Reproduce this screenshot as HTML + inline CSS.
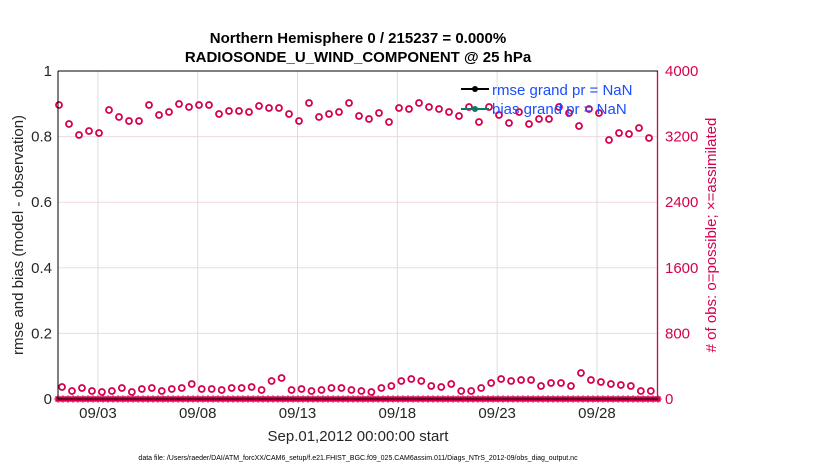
<!DOCTYPE html>
<html><head><meta charset="utf-8"><style>
body{margin:0;background:#fff;}
svg{display:block;font-family:"Liberation Sans",Arial,sans-serif;}
</style></head><body>
<svg id="s" width="830" height="470" xmlns="http://www.w3.org/2000/svg">
<rect width="830" height="470" fill="#fff"/>
<g id="grid" stroke="#dcdcdc" stroke-width="1"></g>
<g id="pts"></g>
<line x1="58" y1="71" x2="58" y2="399" stroke="#000"/>
<line x1="657.5" y1="71" x2="657.5" y2="399" stroke="#d6004f" stroke-width="1.3"/>
<line x1="58" y1="399" x2="658" y2="399" stroke="#000"/>
<line x1="58" y1="71" x2="658" y2="71" stroke="#000"/>
<g font-size="15" fill="#262626" text-anchor="end" id="yl"></g>
<g font-size="15" fill="#d6004f" id="yr"></g>
<g font-size="15" fill="#262626" text-anchor="middle" id="xl"></g>
<text x="358" y="43" font-size="15" font-weight="bold" text-anchor="middle" fill="#000">Northern Hemisphere 0 / 215237 = 0.000%</text>
<text x="358" y="62" font-size="15" font-weight="bold" text-anchor="middle" fill="#000">RADIOSONDE_U_WIND_COMPONENT @ 25 hPa</text>
<text x="358" y="441" font-size="15" text-anchor="middle" fill="#262626">Sep.01,2012 00:00:00 start</text>
<text x="358" y="460" font-size="7" text-anchor="middle" fill="#000">data file: /Users/raeder/DAI/ATM_forcXX/CAM6_setup/f.e21.FHIST_BGC.f09_025.CAM6assim.011/Diags_NTrS_2012-09/obs_diag_output.nc</text>
<text transform="translate(23,235) rotate(-90)" font-size="15" text-anchor="middle" fill="#262626">rmse and bias (model - observation)</text>
<text transform="translate(716,235) rotate(-90)" font-size="15" text-anchor="middle" fill="#d6004f"># of obs: o=possible; ×=assimilated</text>
<g id="leg"></g>
</svg>
<script>
(function(){
const ns="http://www.w3.org/2000/svg";
function el(p,t,a,txt){const e=document.createElementNS(ns,t);for(const k in a)e.setAttribute(k,a[k]);if(txt)e.textContent=txt;document.getElementById(p).appendChild(e);}
for(let k=1;k<5;k++){const y=399-65.6*k;el("grid","line",{x1:58,x2:658,y1:y,y2:y,stroke:"#f0d8e0"});}
const days=[3,8,13,18,23,28];
days.forEach(d=>{const x=58+19.96*(d-1);el("grid","line",{x1:x,x2:x,y1:71,y2:399});el("xl","text",{x:x,y:418},"09/"+String(d).padStart(2,"0"));});
["0","0.2","0.4","0.6","0.8","1"].forEach((t,k)=>el("yl","text",{x:52,y:404-65.6*k},t));
["0","800","1600","2400","3200","4000"].forEach((t,k)=>el("yr","text",{x:665,y:404-65.6*k},t));
const topY=[105,124,135,131,133,110,117,121,121,105,115,112,104,107,105,105,114,111,111,112,106,108,108,114,121,103,117,114,112,103,116,119,113,122,108,109,103,
107,109,112,116,107,122,107,115,123,112,124,119,119,107,113,126,109,113,140,133,134,128,138];
const bot=[387,391,388,391,392,391,388,392,389,388,391,389,388,384,389,389,390,388,388,387,390,381,378,390,389,391,390,388,388,390,391,392,388,386,381,379,381,386,387,384,391,391,388,383,379,381,380,380,386,383,383,386,373,380,382,384,385,386,391,391];
for(let i=0;i<60;i++){el("pts","circle",{cx:59+10*i,cy:topY[i],r:3,fill:"none",stroke:"#d6004f","stroke-width":1.8});}
for(let i=0;i<60;i++){el("pts","circle",{cx:62+9.98*i,cy:bot[i],r:3,fill:"none",stroke:"#d6004f","stroke-width":1.8});}
for(let i=0;i<=120;i++){const x=58+5*i;el("pts","path",{d:`M${x-3.5} 399h7M${x} 395.5v7M${x-2.5} 396.5l5 5M${x-2.5} 401.5l5 -5`,stroke:"#d6004f","stroke-width":1.6});}
el("pts","line",{x1:58,x2:658,y1:399,y2:399,stroke:"#d6004f","stroke-width":3});
el("leg","line",{x1:461,y1:89,x2:489,y2:89,stroke:"#000","stroke-width":2});
el("leg","circle",{cx:475,cy:89,r:3,fill:"#000"});
el("leg","line",{x1:461,y1:109,x2:489,y2:109,stroke:"#0a7a6a","stroke-width":2});
el("leg","circle",{cx:475,cy:109,r:3,fill:"#0a7a6a"});
el("leg","text",{x:492,y:95,"font-size":15,fill:"#1a4dff"},"rmse grand pr = NaN");
el("leg","text",{x:492,y:114,"font-size":15,fill:"#1a4dff"},"bias grand pr = NaN");
})();
</script>
</body></html>
